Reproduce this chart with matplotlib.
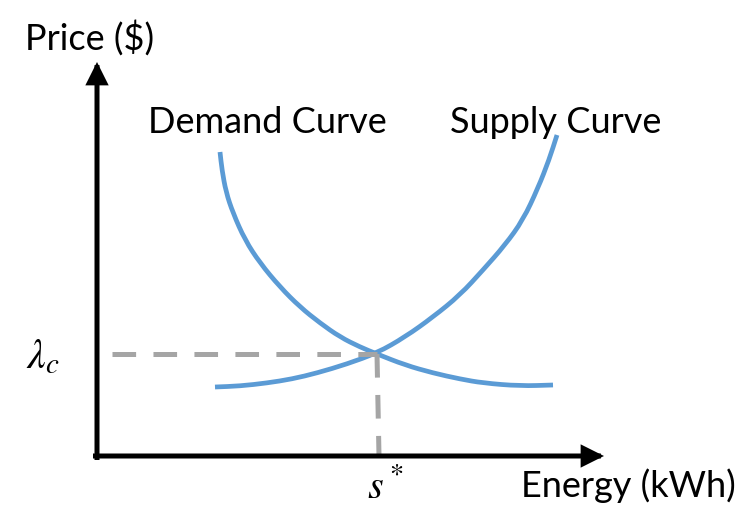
import matplotlib
matplotlib.use("Agg")
import matplotlib.pyplot as plt
from matplotlib.path import Path
from matplotlib.patches import PathPatch

plt.rcParams['lines.scale_dashes'] = False
plt.rcParams['mathtext.fontset'] = 'stix'

# Curve points (figure-pixel coordinates, y measured downward)
demand_x = [220, 222, 226, 233, 245, 260, 280, 300, 320, 340, 360, 377, 405, 433, 460, 483, 520, 553]
demand_y = [152, 170, 192, 213, 240, 263, 287, 307, 323, 337, 347, 354, 365, 373, 379, 383, 386, 385]
supply_x = [215, 240, 267, 292, 317, 347, 377, 405, 433, 460, 483, 505, 523, 538, 549, 557]
supply_y = [387, 386, 383, 379, 373, 364, 353, 337, 317, 295, 270, 245, 220, 188, 160, 135]

# Equilibrium point and axes geometry
eq_x, eq_y = 377, 354
origin_x, origin_y = 97, 456
x_tip, y_tip = 604, 62

labels = {
    "price": "Price ($)",
    "energy": "Energy (kWh)",
    "demand": "Demand Curve",
    "supply": "Supply Curve",
    "lam": r"$\lambda_c$",
    "s": r"$s^*$",
}

BLUE = "#5B9BD5"
GREY = "#A5A5A5"


def smooth_path(xs, ys):
    """Quadratic B-spline style path drawn by matplotlib's Bezier renderer."""
    pts = list(zip(xs, ys))
    verts = [pts[0]]
    codes = [Path.MOVETO]
    mid = lambda a, b: ((a[0] + b[0]) / 2, (a[1] + b[1]) / 2)
    verts.append(mid(pts[0], pts[1]))
    codes.append(Path.LINETO)
    for i in range(1, len(pts) - 1):
        verts += [pts[i], mid(pts[i], pts[i + 1])]
        codes += [Path.CURVE3, Path.CURVE3]
    verts.append(pts[-1])
    codes.append(Path.LINETO)
    return Path(verts, codes)


fig = plt.figure(figsize=(7.46, 5.24), dpi=100)
ax = fig.add_axes([0, 0, 1, 1])
ax.set_xlim(0, 746)
ax.set_ylim(524, 0)
ax.axis("off")

# dashed guide lines
ax.plot([112, eq_x], [eq_y, eq_y], color=GREY, lw=3.6, dashes=(17, 12.5), dash_capstyle='butt')
ax.plot([eq_x, eq_x + 2], [eq_y, origin_y], color=GREY, lw=3.6, dashes=(17, 12.5), dash_capstyle='butt')

# curves
for xs, ys in ((demand_x, demand_y), (supply_x, supply_y)):
    ax.add_patch(PathPatch(smooth_path(xs, ys), facecolor='none', edgecolor=BLUE,
                           lw=3.4, capstyle='butt', joinstyle='round'))

# axes arrows
arrow = dict(arrowstyle='-|>,head_length=1.1,head_width=0.55', lw=3.6, color='black',
             shrinkA=0, shrinkB=0, joinstyle='miter', capstyle='projecting')
ax.annotate('', xy=(origin_x, y_tip), xytext=(origin_x, origin_y + 1.5), arrowprops=arrow)
ax.annotate('', xy=(x_tip, origin_y), xytext=(origin_x - 1.5, origin_y), arrowprops=arrow)

fs = 26
fam = ['Lato', 'DejaVu Sans']
ax.text(25, 50, labels["price"], fontsize=fs, family=fam, ha='left', va='baseline')
ax.text(148, 133, labels["demand"], fontsize=fs, family=fam, ha='left', va='baseline')
ax.text(450, 133, labels["supply"], fontsize=fs, family=fam, ha='left', va='baseline')
ax.text(521, 497, labels["energy"], fontsize=fs, family=fam, ha='left', va='baseline')

ax.text(26, 368, labels["lam"], fontsize=30, ha='left', va='baseline')
ax.text(367, 498, labels["s"], fontsize=29, ha='left', va='baseline')

fig.savefig("out.png", dpi=100)
